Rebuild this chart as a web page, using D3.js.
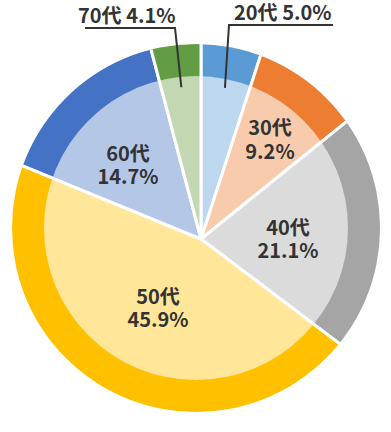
<!DOCTYPE html>
<html>
<head>
<meta charset="utf-8">
<script src="https://cdn.jsdelivr.net/npm/d3@7"></script>
<style>
  html, body { margin: 0; padding: 0; background: #fff; }
  svg { display: block; }
  text { font-family: "Noto Sans CJK JP", "Noto Sans", sans-serif; font-weight: bold; fill: #333; }
</style>
</head>
<body>
<svg id="chart" width="391" height="432"></svg>
<script>
// ---- data ----
const categories = ["20代", "30代", "40代", "50代", "60代", "70代"];
const values = [5.0, 9.2, 21.1, 45.9, 14.7, 4.1];
const outerColors = ["#5B9BD5", "#ED7D31", "#A5A5A5", "#FFC000", "#4472C4", "#629C44"];
const innerColors = ["#BDD7EE", "#F8CBAD", "#DBDBDB", "#FFE699", "#B4C7E7", "#C3D7B3"];

// ---- layout ----
const W = 391, H = 432;
const vertex = [201, 239];      // slice apex
const ring = [196, 228];        // centre of the outline circles
const rOuter = 184, rInner = 152;
// label anchors for inside labels: x, baseline of line 1, baseline of line 2
const insideLabels = {
  1: [270, 135, 159],
  2: [288, 235, 258],
  3: [158, 304, 327],
  4: [128, 161, 184]
};

const svg = d3.select("#chart");
const defs = svg.append("defs");
defs.append("clipPath").attr("id", "clipOuter")
  .append("circle").attr("cx", ring[0]).attr("cy", ring[1]).attr("r", rOuter);
defs.append("clipPath").attr("id", "clipInner")
  .append("circle").attr("cx", ring[0]).attr("cy", ring[1]).attr("r", rInner);

const pie = d3.pie().sort(null).value(d => d);
const arcs = pie(values);
const bigArc = d3.arc().innerRadius(0).outerRadius(300);

const gOuter = svg.append("g").attr("clip-path", "url(#clipOuter)")
  .append("g").attr("transform", `translate(${vertex[0]},${vertex[1]})`);
gOuter.selectAll("path").data(arcs).join("path")
  .attr("d", bigArc)
  .attr("fill", (d, i) => outerColors[i])
  .attr("stroke", "#fff").attr("stroke-width", 3).attr("stroke-linejoin", "round");

const gInner = svg.append("g").attr("clip-path", "url(#clipInner)")
  .append("g").attr("transform", `translate(${vertex[0]},${vertex[1]})`);
gInner.selectAll("path").data(arcs).join("path")
  .attr("d", bigArc)
  .attr("fill", (d, i) => innerColors[i])
  .attr("stroke", "#fff").attr("stroke-width", 3).attr("stroke-linejoin", "round");

const fmt = v => v.toFixed(1) + "%";
const fs = 20;

// inside labels
Object.entries(insideLabels).forEach(([k, p]) => {
  const i = +k;
  svg.append("text").attr("x", p[0]).attr("y", p[1]).attr("text-anchor", "middle")
    .attr("font-size", fs).text(categories[i]);
  svg.append("text").attr("x", p[0]).attr("y", p[2]).attr("text-anchor", "middle")
    .attr("font-size", fs).text(fmt(values[i]));
});

// outside labels with leader lines
const leaderArc = d3.arc().innerRadius(153).outerRadius(153);
function outside(i, textX, baseY, lineY, lineX0, lineX1, elbowX) {
  const c = leaderArc.centroid(arcs[i]);
  const px = vertex[0] + c[0], py = vertex[1] + c[1];
  svg.append("path")
    .attr("d", `M${px},${py}L${elbowX},${lineY}L${elbowX === lineX0 ? lineX1 : lineX0},${lineY}`)
    .attr("fill", "none").attr("stroke", "#333").attr("stroke-width", 2);
  svg.append("text").attr("x", textX).attr("y", baseY).attr("font-size", fs)
    .text(categories[i] + " " + fmt(values[i]));
}
outside(0, 234, 20, 25, 229, 333, 229);
outside(5, 78, 23, 28, 85, 175, 175);
</script>
</body>
</html>
